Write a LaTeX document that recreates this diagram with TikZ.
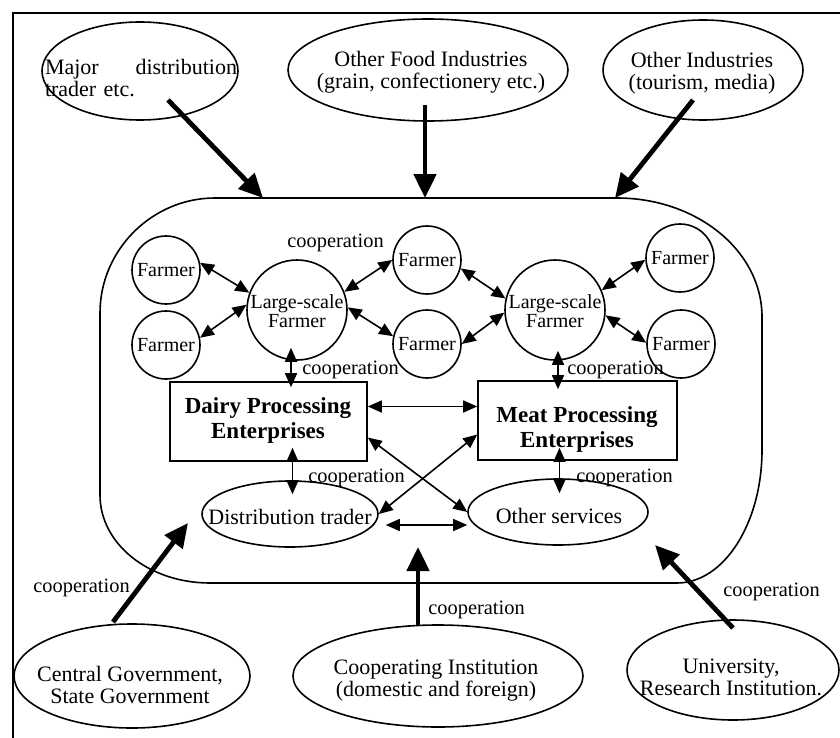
\documentclass[tikz,border=0pt]{standalone}
\usepackage{fontspec}
\setmainfont{Liberation Serif}
\usetikzlibrary{shapes.geometric,arrows.meta}
\tikzset{
  shp/.style={draw, line width=0.8pt},
  farmer/.style={shp, circle, minimum size=34pt, inner sep=0pt},
  bigfarmer/.style={shp, circle, minimum size=50pt, inner sep=0pt},
  ell/.style={shp, ellipse, inner sep=0pt},
  box/.style={shp, rectangle, inner sep=0pt},
  txt/.style={inner sep=0pt, align=center, font=\fontsize{11}{11}\selectfont},
  ftxt/.style={inner sep=0pt, align=center, font=\fontsize{10}{9.5}\selectfont},
  btxt/.style={inner sep=0pt, align=center, font=\fontsize{11.5}{12.5}\selectfont\bfseries},
  lbl/.style={inner sep=0pt, anchor=west, font=\fontsize{10.2}{10}\selectfont},
  dbl/.style={{Triangle[length=7pt,width=6pt]}-{Triangle[length=7pt,width=6pt]}, line width=0.8pt},
  fat/.style={-{Triangle[length=12pt,width=11pt]}, line width=2.4pt},
}
\begin{document}
\begin{tikzpicture}[x=0.5pt,y=-0.5pt]
\useasboundingbox (0,0) rectangle (840,738);
% frame
\draw[line width=1pt] (13,738) -- (13,13) -- (840,13);
% top ellipses
\node[ell, minimum width=98pt, minimum height=49pt] (mdt) at (140,71) {};
\node[txt, text width=96pt, align=left] (mdtT) at (141,78) {Major\hfill distribution\\trader etc.};
\node[ell, minimum width=140pt, minimum height=51pt] (ofi) at (428,70) {};
\node[txt] (ofiT) at (431,72) {Other Food Industries\\(grain, confectionery etc.)};
\node[ell, minimum width=100pt, minimum height=50pt] (oin) at (703,70) {};
\node[txt] (oinT) at (702,73) {Other Industries\\(tourism, media)};
% region
\draw[shp] (215,198) -- (617,198) .. controls (697,198) and (762,251) .. (762,317)
  -- (762,450) .. controls (762,523) and (724,583) .. (677,583)
  -- (210,583) .. controls (149,583) and (100,544) .. (100,495)
  -- (100,313) .. controls (100,250) and (152,198) .. (215,198) -- cycle;
% farmers
\node[farmer] (f1) at (166,270) {};
\node[farmer] (f2) at (166,345) {};
\node[bigfarmer] (L1) at (297,310) {};
\node[farmer] (fm1) at (427,260) {};
\node[farmer] (fm2) at (427,344) {};
\node[bigfarmer] (L2) at (555,310) {};
\node[farmer] (fr1) at (680,258) {};
\node[farmer] (fr2) at (681,344) {};
\node[ftxt] (f1t) at (f1) {Farmer};
\node[ftxt] (f2t) at (f2) {Farmer};
\node[ftxt] (fm1t) at (fm1) {Farmer};
\node[ftxt] (fm2t) at (fm2) {Farmer};
\node[ftxt] (fr1t) at (fr1) {Farmer};
\node[ftxt] (fr2t) at (fr2) {Farmer};
\node[ftxt] (L1t) at (297,311) {Large-scale\\Farmer};
\node[ftxt] (L2t) at (555,311) {Large-scale\\Farmer};
% boxes
\node[box, minimum width=98.5pt, minimum height=39.5pt] (dairy) at (268.5,421.5) {};
\node[btxt] (dairyT) at (268,420) {Dairy Processing\\Enterprises};
\node[box, minimum width=99.5pt, minimum height=39.5pt] (meat) at (577.5,420.5) {};
\node[btxt] (meatT) at (577,429) {Meat Processing\\Enterprises};
% inner ellipses
\node[ell, minimum width=88pt, minimum height=33pt] (dt) at (290,514) {};
\node[txt] (dtT) at (290,517) {Distribution trader};
\node[ell, minimum width=90pt, minimum height=33pt] (os) at (558,512) {};
\node[txt] (osT) at (559,516) {Other services};
% bottom ellipses
\node[ell, minimum width=118pt, minimum height=52pt] (cg) at (132,676) {};
\node[txt] (cgT) at (130,685) {Central Government,\\State Government};
\node[ell, minimum width=145pt, minimum height=51pt] (ci) at (438,676) {};
\node[txt] (ciT) at (436,681) {Cooperating Institution\\(domestic and foreign)};
\node[ell, minimum width=106pt, minimum height=50pt] (un) at (733,670) {};
\node[txt] (unT) at (731,677) {University,\\Research Institution.};
% fat arrows
\coordinate (a1s) at (168,100); \coordinate (a1e) at (263,198);
\coordinate (a2s) at (425,105); \coordinate (a2e) at (425,198);
\coordinate (a3s) at (693,100); \coordinate (a3e) at (615,198);
\coordinate (a4s) at (113,622); \coordinate (a4e) at (188,523);
\coordinate (a5s) at (418,625); \coordinate (a5e) at (418,547);
\coordinate (a6s) at (733,628); \coordinate (a6e) at (655,545);
\draw[fat] (a1s) -- (a1e);
\draw[fat] (a2s) -- (a2e);
\draw[fat] (a3s) -- (a3e);
\draw[fat] (a4s) -- (a4e);
\draw[fat] (a5s) -- (a5e);
\draw[fat] (a6s) -- (a6e);
% farmer links
\draw[dbl] (f1.12) -- (L1.160);
\draw[dbl] (f2.12) -- (L1.174);
\draw[dbl] (L1.21) -- (fm1.180);
\draw[dbl] (L1.3) -- (fm2.167);
\draw[dbl] (fm1.-14) -- (L2.167);
\draw[dbl] (fm2.0) -- (L2.183);
\draw[dbl] (L2.23) -- (fr1.183);
\draw[dbl] (L2.-6) -- (fr2.178);
% vertical links
\draw[dbl] ([xshift=-3pt,yshift=6.5pt]L1.south) -- ([xshift=-3pt,yshift=-3pt]L1.south |- dairy.north);
\draw[dbl] ([xshift=1.5pt,yshift=5pt]L2.south) -- ([xshift=1.5pt,yshift=-4.5pt]L2.south |- meat.north);
\draw[dbl] ([xshift=12pt,yshift=7pt]dairy.south) -- ([xshift=12pt,yshift=-7pt]dairy.south |- dt.north);
\draw[dbl] ([xshift=-9pt,yshift=6.5pt]meat.south) -- ([xshift=-9pt,yshift=-7.5pt]meat.south |- os.north);
% cross links
\draw[dbl] ([yshift=7.5pt]dairy.east) -- ([yshift=7.5pt]dairy.east -| meat.west);
\draw[dbl] ([yshift=-8pt]dairy.east) -- (os.west);
\draw[dbl] (dt.east) -- ([yshift=-7pt]meat.west);
\draw[dbl] ([xshift=3.5pt,yshift=-5.5pt]dt.east) -- ([yshift=-6.5pt]os.west);
% cooperation labels
\node[lbl] (c1) at (287,243) {cooperation};
\node[lbl] (c2) at (302,370) {cooperation};
\node[lbl] (c3) at (567,370) {cooperation};
\node[lbl] (c4) at (308,478) {cooperation};
\node[lbl] (c5) at (576,478) {cooperation};
\node[lbl] (c6) at (33,588) {cooperation};
\node[lbl] (c7) at (428,610) {cooperation};
\node[lbl] (c8) at (723,592) {cooperation};
\end{tikzpicture}
\end{document}
